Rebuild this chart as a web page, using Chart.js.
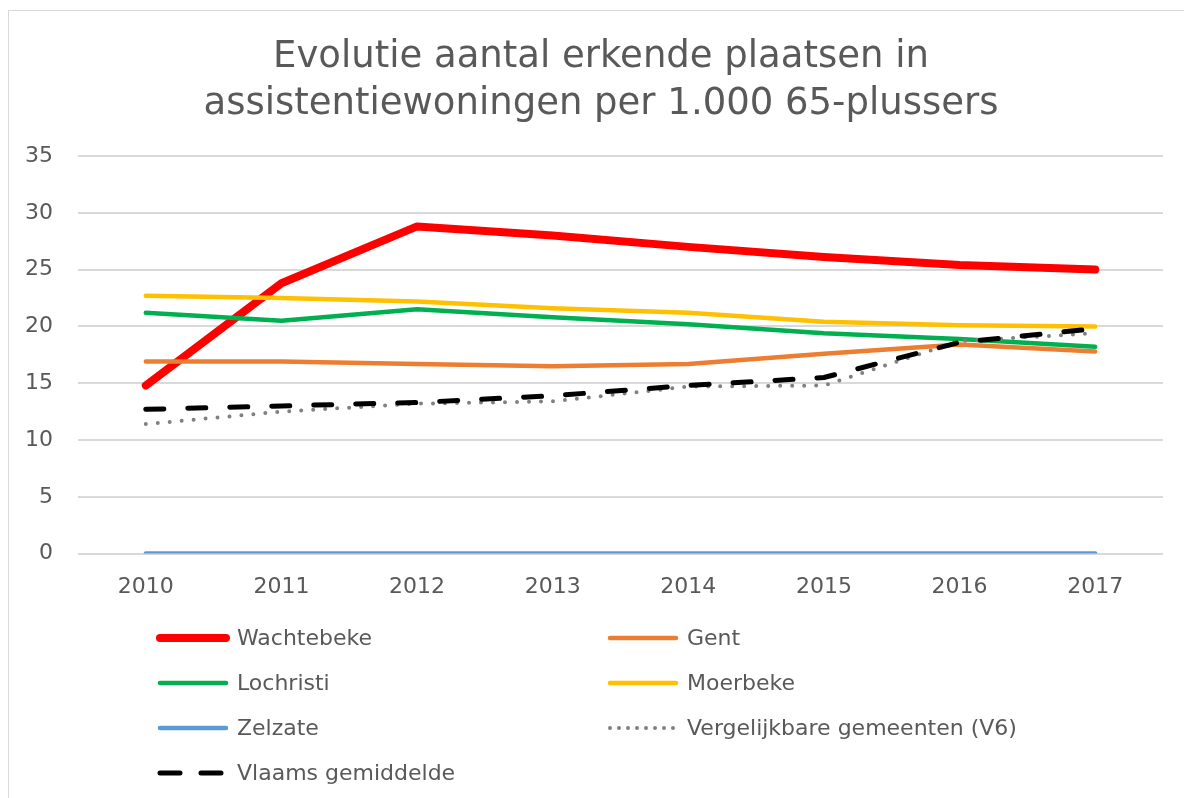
<!DOCTYPE html>
<html>
<head>
<meta charset="utf-8">
<script src="https://cdn.jsdelivr.net/npm/chart.js@4"></script>
<style>
  html, body { margin: 0; padding: 0; background: #fff; overflow: hidden; }
  #wrap { position: relative; width: 1184px; height: 798px; }
  #frame { position: absolute; left: 8px; top: 10px; width: 1200px; height: 820px; border: 1px solid #d9d9d9; box-sizing: border-box; }
  #cv { position: absolute; left: 0; top: 0; }
</style>
</head>
<body>
<div id="wrap">
  <div id="frame"></div>
  <canvas id="cv" width="1184" height="798"></canvas>
</div>
<script>
// ---- datos ----
const years = ['2010', '2011', '2012', '2013', '2014', '2015', '2016', '2017'];
const wachtebeke = [14.8, 23.8, 28.8, 28.0, 27.0, 26.1, 25.4, 25.0];
const gent       = [16.9, 16.9, 16.7, 16.5, 16.7, 17.6, 18.4, 17.8];
const lochristi  = [21.2, 20.5, 21.5, 20.8, 20.2, 19.4, 18.9, 18.2];
const moerbeke   = [22.7, 22.5, 22.2, 21.6, 21.2, 20.4, 20.1, 20.0];
const zelzate    = [0, 0, 0, 0, 0, 0, 0, 0];
const v6         = [11.4, 12.5, 13.2, 13.4, 14.7, 14.8, 18.7, 19.4];
const vlaams     = [12.7, 13.0, 13.3, 13.9, 14.8, 15.5, 18.6, 19.8];
const yTicks = [0, 5, 10, 15, 20, 25, 30, 35];
const titleLines = ['Evolutie aantal erkende plaatsen in', 'assistentiewoningen per 1.000 65-plussers'];

const FONT = "'DejaVu Sans', Verdana, sans-serif";
const TXT = '#595959';

const series = [
  { label: 'Wachtebeke', data: wachtebeke, color: '#ff0000', width: 8 },
  { label: 'Gent', data: gent, color: '#ed7d31', width: 4.5 },
  { label: 'Lochristi', data: lochristi, color: '#00b050', width: 4.5 },
  { label: 'Moerbeke', data: moerbeke, color: '#ffc000', width: 4.5 },
  { label: 'Zelzate', data: zelzate, color: '#5b9bd5', width: 4.5 },
  { label: 'Vergelijkbare gemeenten (V6)', data: v6, color: '#808080', width: 4, dash: [0, 12] },
  { label: 'Vlaams gemiddelde', data: vlaams, color: '#000000', width: 5, dash: [18, 24] }
];

// título centrado sobre el marco (no sobre el área del gráfico)
const titlePlugin = {
  id: 'frameTitle',
  afterDraw(chart) {
    const ctx = chart.ctx;
    ctx.save();
    ctx.font = '37px ' + FONT;
    ctx.fillStyle = TXT;
    ctx.textAlign = 'center';
    ctx.textBaseline = 'middle';
    titleLines.forEach((t, i) => ctx.fillText(t, 601, 57.5 + i * 47));
    ctx.restore();
  }
};

// leyenda en dos columnas (como Excel)
const legendPlugin = {
  id: 'twoColLegend',
  afterDraw(chart) {
    const ctx = chart.ctx;
    const cols = [160, 610];
    const rows = [638, 683, 728, 773];
    ctx.save();
    ctx.font = '22px ' + FONT;
    ctx.textBaseline = 'middle';
    ctx.fillStyle = TXT;
    series.forEach((s, i) => {
      const x = cols[i % 2], y = rows[Math.floor(i / 2)];
      ctx.beginPath();
      ctx.strokeStyle = s.color;
      ctx.lineWidth = s.width;
      ctx.lineCap = 'round';
      ctx.setLineDash(s.dash ? (s.dash[0] === 0 ? [0, 9] : [20, 21]) : []);
      ctx.moveTo(x, y);
      ctx.lineTo(x + 66, y);
      ctx.stroke();
      ctx.setLineDash([]);
      ctx.fillText(s.label, x + 77, y + 1);
    });
    ctx.restore();
  }
};

new Chart(document.getElementById('cv').getContext('2d'), {
  type: 'line',
  data: {
    labels: years,
    datasets: series.map((s, i) => ({
      label: s.label,
      data: s.data,
      borderColor: s.color,
      backgroundColor: s.color,
      borderWidth: s.width,
      borderDash: s.dash || [],
      borderCapStyle: 'round',
      borderJoinStyle: 'round',
      pointRadius: 0,
      tension: 0,
      fill: false,
      order: series.length - i
    }))
  },
  options: {
    responsive: false,
    animation: false,
    layout: { padding: { top: 156, left: 0, right: 21, bottom: 178 } },
    plugins: {
      legend: { display: false },
      tooltip: { enabled: false },
      title: { display: false }
    },
    scales: {
      x: {
        offset: true,
        grid: { display: false, drawTicks: false },
        border: { display: false },
        ticks: { color: TXT, font: { family: FONT, size: 22 }, padding: 20 }
      },
      y: {
        min: 0, max: 35,
        afterBuildTicks: (scale) => { scale.ticks = yTicks.map(v => ({ value: v })); },
        afterFit: (scale) => { scale.width = 78; },
        grid: { color: '#d9d9d9', lineWidth: 2, drawTicks: false },
        border: { display: false },
        ticks: { color: TXT, font: { family: FONT, size: 22 }, padding: 25 }
      }
    }
  },
  plugins: [titlePlugin, legendPlugin]
});
</script>
</body>
</html>
